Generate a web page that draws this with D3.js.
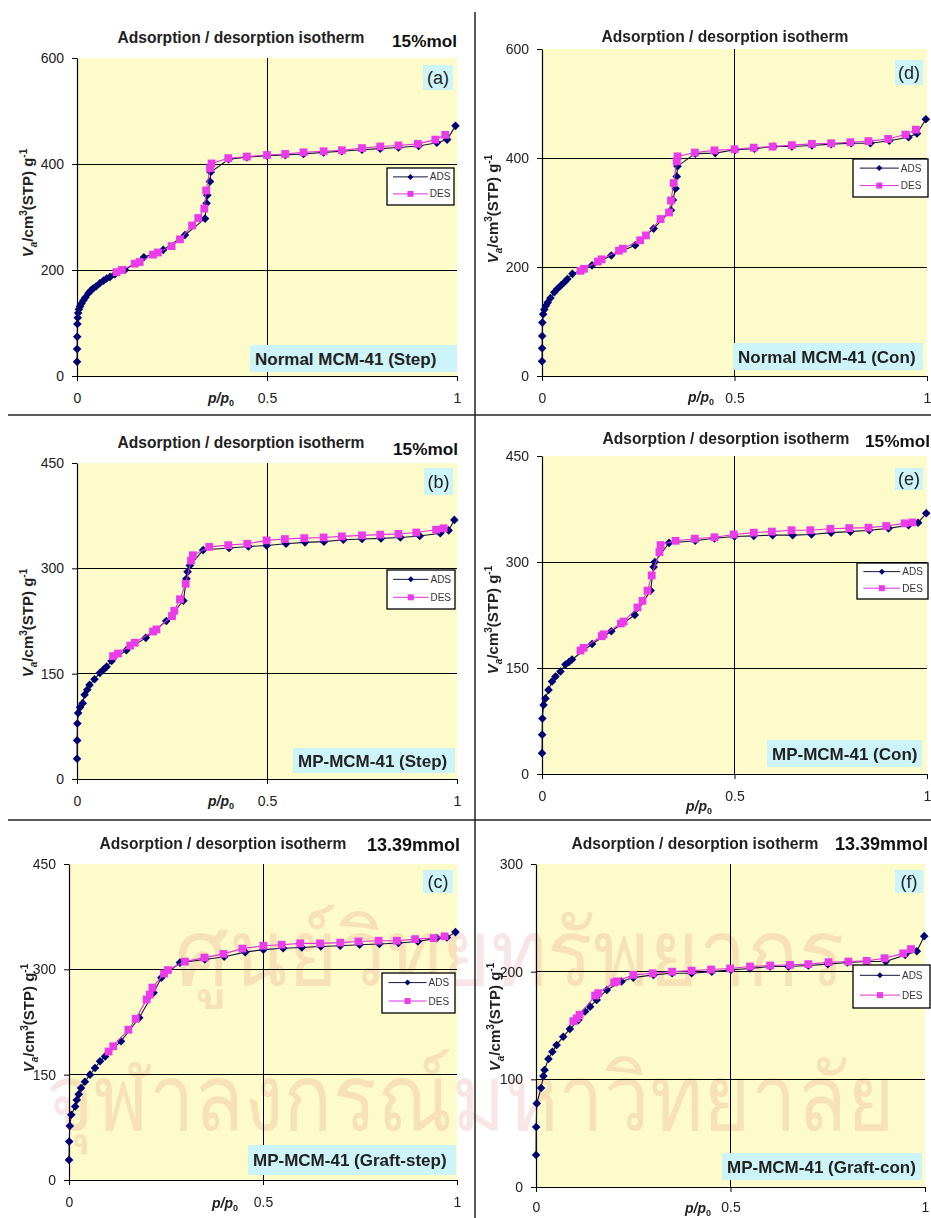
<!DOCTYPE html>
<html>
<head>
<meta charset="utf-8">
<script src="https://cdn.jsdelivr.net/npm/d3@7"></script>
<style>
  html, body { margin: 0; padding: 0; background: #ffffff; }
  svg { display: block; }
</style>
</head>
<body>
<svg id="fig" width="931" height="1218"></svg>
<script>
// ---- Isotherm data: [p/p0, V (cm3 STP / g)] ----
const adsA = [[0.0001,27],[0.0003,51],[0.0006,74],[0.001,98],[0.002,110],[0.003,119],[0.005,126],[0.008,131],[0.012,137],[0.017,143],[0.022,148],[0.03,156],[0.036,161],[0.043,165.5],[0.05,169],[0.06,175],[0.07,180],[0.078,184],[0.087,187],[0.1,192],[0.126,200],[0.176,224],[0.227,238],[0.284,266],[0.337,297],[0.341,326],[0.343,341],[0.35,367],[0.352,385],[0.399,409],[0.447,413],[0.5,415.5],[0.548,417],[0.596,419],[0.649,422],[0.697,424],[0.75,427],[0.798,429],[0.846,431],[0.899,434],[0.947,440],[0.974,446],[0.996,472]];
const desA = [[0.104,196],[0.118,200],[0.152,212],[0.165,215],[0.2,229],[0.213,233],[0.249,245],[0.271,258],[0.303,284],[0.319,298],[0.335,316],[0.34,350],[0.35,392],[0.354,401],[0.398,411],[0.447,414],[0.5,417],[0.548,419],[0.596,422],[0.649,424],[0.697,426],[0.75,430],[0.798,433],[0.846,435],[0.897,438],[0.943,446],[0.969,455]];

const adsB = [[0.0001,28.8],[0.0004,55],[0.001,79],[0.003,94],[0.008,102],[0.015,108],[0.02,120],[0.027,127],[0.033,134],[0.046,142],[0.06,151],[0.07,156],[0.078,160],[0.091,168],[0.13,183.5],[0.181,201],[0.235,225],[0.28,254],[0.288,285],[0.291,295],[0.297,304],[0.332,326],[0.4,329],[0.451,331],[0.499,332.6],[0.55,335],[0.6,337],[0.65,338],[0.701,340.7],[0.75,341.7],[0.8,342.6],[0.851,344],[0.902,346],[0.956,350],[0.978,354],[0.993,369]];
const desB = [[0.095,175],[0.108,178.7],[0.14,190],[0.152,194],[0.2,210],[0.209,213],[0.25,232],[0.256,239.5],[0.271,256],[0.286,278],[0.3,311],[0.305,318.6],[0.348,330.6],[0.398,333],[0.448,335],[0.499,339.8],[0.547,341.7],[0.598,343],[0.649,344],[0.697,345.5],[0.75,347],[0.798,348],[0.846,349],[0.893,351],[0.945,355],[0.965,357]];

const adsC = [[0.0001,28.6],[0.0005,54.8],[0.002,77],[0.006,93],[0.016,104.7],[0.02,114],[0.025,122],[0.031,131],[0.041,140],[0.054,150],[0.067,159.5],[0.08,169],[0.093,176],[0.134,197.6],[0.181,231],[0.218,266.7],[0.238,288],[0.286,309.6],[0.35,314],[0.4,318],[0.454,324.5],[0.501,328],[0.552,330],[0.6,331],[0.649,332.6],[0.699,333.6],[0.749,335],[0.8,336],[0.849,337.4],[0.899,339.7],[0.948,344.5],[0.974,345.5],[0.996,353]];
const desC = [[0.102,183],[0.114,190.5],[0.153,214],[0.172,229.5],[0.2,257],[0.208,264],[0.215,274],[0.245,294],[0.255,299],[0.299,311],[0.349,316.7],[0.398,322],[0.447,329.5],[0.501,333.6],[0.548,335],[0.596,337],[0.647,337],[0.699,338],[0.746,339.7],[0.798,340.7],[0.845,340.7],[0.892,343],[0.94,344.5],[0.968,347]];

const adsD = [[0.0001,27],[0.0003,51],[0.0006,73.5],[0.001,98],[0.003,113.5],[0.006,122],[0.01,129],[0.015,135],[0.022,143],[0.032,153.6],[0.04,160],[0.049,166],[0.058,172],[0.066,178],[0.079,187.4],[0.13,203],[0.18,221],[0.242,240],[0.29,270.5],[0.335,304],[0.34,323],[0.347,344],[0.35,366],[0.352,385],[0.398,408],[0.45,409],[0.502,415],[0.552,417],[0.602,421],[0.649,421],[0.701,423],[0.751,425.5],[0.803,427],[0.853,427],[0.902,431.6],[0.952,438],[0.974,445],[0.997,471]];
const desD = [[0.1,193],[0.109,196.7],[0.145,210],[0.155,214],[0.2,230],[0.21,233.6],[0.255,249],[0.27,258],[0.308,288],[0.33,300],[0.335,322],[0.342,354],[0.35,394],[0.352,403],[0.397,410],[0.448,414],[0.5,416],[0.55,419],[0.599,421],[0.649,423.6],[0.701,426],[0.751,427],[0.801,429],[0.848,431],[0.899,435],[0.944,443],[0.971,452]];

const adsE = [[0.0001,29.5],[0.0004,55.7],[0.001,78.6],[0.004,97.6],[0.009,107],[0.017,119],[0.026,131],[0.035,138],[0.048,145],[0.061,155],[0.07,158.5],[0.078,162],[0.13,184],[0.18,202],[0.241,225],[0.282,259.5],[0.29,293],[0.293,300],[0.33,327],[0.398,330],[0.448,333.5],[0.5,336],[0.55,337],[0.599,338],[0.651,338],[0.7,339],[0.751,341.5],[0.801,343],[0.85,345],[0.9,347.6],[0.952,352],[0.977,355.6],[0.998,369]];
const desE = [[0.1,174.7],[0.108,178.6],[0.155,195],[0.16,197.6],[0.205,213],[0.212,215.7],[0.248,235.7],[0.261,245],[0.274,259.5],[0.285,281],[0.305,314],[0.308,324],[0.347,330],[0.397,333],[0.448,335],[0.498,339],[0.55,341.5],[0.597,343],[0.648,345],[0.697,345],[0.749,347],[0.798,348],[0.848,348.6],[0.894,351],[0.942,354.7],[0.962,356]];

const adsF = [[0.0001,29.7],[0.0005,55.7],[0.002,77.5],[0.013,92],[0.019,103],[0.022,108.7],[0.032,119],[0.042,125.6],[0.053,131.8],[0.07,139.6],[0.087,146.7],[0.109,155],[0.126,163],[0.139,167.5],[0.156,173.7],[0.182,183],[0.22,190.8],[0.25,194.5],[0.302,197],[0.35,198.5],[0.4,198.5],[0.452,200],[0.501,201.7],[0.55,203],[0.602,204.8],[0.649,204.8],[0.7,205.7],[0.75,207],[0.801,208.5],[0.85,209.4],[0.899,209.4],[0.949,215.6],[0.979,219],[0.998,233]];
const desF = [[0.096,154],[0.105,156.7],[0.112,160],[0.152,177.8],[0.16,180],[0.201,190],[0.208,191],[0.25,197],[0.3,198.5],[0.35,200],[0.4,201],[0.45,202],[0.499,203],[0.55,204.8],[0.602,205.7],[0.653,206.3],[0.7,207],[0.752,208.8],[0.803,209.4],[0.85,210],[0.896,212.5],[0.944,217],[0.964,221]];

// ---- Labels and axes ----
const seriesNames = ["ADS", "DES"];
const xTickValues = [0, 0.5, 1];
const xTickLabels = ["0", "0.5", "1"];
const yTicksA = [0, 200, 400, 600];
const yTicksB = [0, 150, 300, 450];
const yTicksC = [0, 150, 300, 450];
const yTicksD = [0, 200, 400, 600];
const yTicksE = [0, 150, 300, 450];
const yTicksF = [0, 100, 200, 300];
const panelTags = ["(a)", "(b)", "(c)", "(d)", "(e)", "(f)"];
const sampleNames = ["Normal MCM-41 (Step)", "MP-MCM-41 (Step)", "MP-MCM-41 (Graft-step)",
                     "Normal MCM-41 (Con)", "MP-MCM-41 (Con)", "MP-MCM-41 (Graft-con)"];
const loadings = ["15%mol", "15%mol", "13.39mmol", "", "15%mol", "13.39mmol"];
const chartTitle = "Adsorption / desorption isotherm";
const watermarkLines = ["ศูนย์วิทยทรัพยากร", "จุฬาลงกรณ์มหาวิทยาลัย"];

// ---- Layout of the six panels ----
const layout = [
  {L:77,  R:457, T:58,  B:376,  tx:241, ty:43,  nr:457, ny:47,   lg:[387,168,67,37], tg:[423,65,30,25],  nm:[250,345,207,27],  yl:[28,203],   pl:[221,403]},
  {L:77,  R:457, T:463, B:779,  tx:241, ty:448, nr:458, ny:455,  lg:[387,570,68,39], tg:[424,468,29,27], nm:[293,748,162,25],  yl:[28,623],   pl:[221,806]},
  {L:69,  R:457, T:864, B:1180, tx:223, ty:849, nr:460, ny:851,  lg:[382,973,73,40], tg:[423,870,30,23], nm:[248,1145,208,30], yl:[29,1018],  pl:[225,1208]},
  {L:542, R:927, T:49,  B:376,  tx:725, ty:42,  nr:930, ny:46,   lg:[853,159,75,38], tg:[895,60,28,25],  nm:[733,343,190,27],  yl:[493,209],  pl:[701,402]},
  {L:542, R:927, T:456, B:774,  tx:726, ty:444, nr:930, ny:447,  lg:[857,563,71,36], tg:[895,468,28,22], nm:[767,740,155,27],  yl:[493,620],  pl:[699,811]},
  {L:536, R:925, T:864, B:1187, tx:695, ty:849, nr:928, ny:850,  lg:[853,965,77,43], tg:[895,870,28,23], nm:[722,1153,200,27], yl:[495,1017], pl:[698,1213]}
];
const adsSets = [adsA, adsB, adsC, adsD, adsE, adsF];
const desSets = [desA, desB, desC, desD, desE, desF];
const yTickSets = [yTicksA, yTicksB, yTicksC, yTicksD, yTicksE, yTicksF];

const FONT = "'Liberation Sans', Arial, Helvetica, sans-serif";
const PLOT_BG = "#fdfbc9";
const LABEL_BG = "#cdf4f8";
const ADS_FILL = "#000072";
const ADS_LINE = "#14143c";
const DES_FILL = "#ea3cea";
const DES_LINE = "#e02ee0";

const svg = d3.select("#fig").style("font-family", FONT);
const bgLayer = svg.append("g");
const wmLayer = svg.append("g");
const fgLayer = svg.append("g");

const diamond = r => `M0,${-r}L${r},0L0,${r}L${-r},0Z`;
const square = s => `M${-s/2},${-s/2}h${s}v${s}h${-s}Z`;

layout.forEach((c, i) => {
  const yTicks = yTickSets[i];
  const yMax = yTicks[yTicks.length - 1];
  const x = d3.scaleLinear().domain([0, 1]).range([c.L, c.R]);
  const y = d3.scaleLinear().domain([0, yMax]).range([c.B, c.T]);

  // plot area
  bgLayer.append("rect")
    .attr("x", c.L).attr("y", c.T).attr("width", c.R - c.L).attr("height", c.B - c.T)
    .attr("fill", PLOT_BG);

  const g = fgLayer.append("g");

  // grid lines
  g.selectAll(".hgrid").data(yTicks.filter(v => v > 0 && v < yMax)).enter()
    .append("line")
    .attr("x1", c.L).attr("x2", c.R)
    .attr("y1", d => y(d)).attr("y2", d => y(d))
    .attr("stroke", "#000").attr("stroke-width", 1).attr("shape-rendering", "crispEdges");
  g.selectAll(".vgrid").data(xTickValues.filter(v => v > 0 && v < 1)).enter()
    .append("line")
    .attr("y1", c.T).attr("y2", c.B)
    .attr("x1", d => x(d)).attr("x2", d => x(d))
    .attr("stroke", "#000").attr("stroke-width", 1).attr("shape-rendering", "crispEdges");

  // axes
  const yAxis = d3.axisLeft(y).tickValues(yTicks).tickSize(5).tickSizeOuter(0).tickPadding(8)
    .tickFormat(d3.format("d"));
  const xAxis = d3.axisBottom(x).tickValues(xTickValues).tickSize(5).tickSizeOuter(0)
    .tickPadding(i === 5 ? 10 : 12)
    .tickFormat((d, k) => xTickLabels[k]);
  const ya = g.append("g").attr("transform", `translate(${c.L},0)`).call(yAxis);
  const xa = g.append("g").attr("transform", `translate(0,${c.B})`).call(xAxis);
  [ya, xa].forEach(a => {
    a.select(".domain").attr("stroke", "#000").attr("stroke-width", 1.2);
    a.selectAll(".tick line").attr("stroke", "#000");
    a.selectAll(".tick text").attr("fill", "#222").style("font-size", "14px").style("font-family", FONT);
  });

  // series
  const line = d3.line().x(d => x(d[0])).y(d => y(d[1]));
  g.append("path").datum(adsSets[i]).attr("d", line)
    .attr("fill", "none").attr("stroke", ADS_LINE).attr("stroke-width", 1.1);
  g.append("g").selectAll("path").data(adsSets[i]).enter().append("path")
    .attr("transform", d => `translate(${x(d[0])},${y(d[1])})`)
    .attr("d", diamond(4.3)).attr("fill", ADS_FILL);
  g.append("path").datum(desSets[i]).attr("d", line)
    .attr("fill", "none").attr("stroke", DES_LINE).attr("stroke-width", 1.1);
  g.append("g").selectAll("path").data(desSets[i]).enter().append("path")
    .attr("transform", d => `translate(${x(d[0])},${y(d[1])})`)
    .attr("d", square(7.8)).attr("fill", DES_FILL);

  // title and loading
  g.append("text").attr("x", c.tx).attr("y", c.ty).attr("text-anchor", "middle")
    .attr("font-weight", "bold").attr("font-size", 15.6).attr("fill", "#222").text(chartTitle);
  if (loadings[i]) {
    g.append("text").attr("x", c.nr).attr("y", c.ny).attr("text-anchor", "end")
      .attr("font-weight", "bold").attr("font-size", loadings[i].length > 7 ? 18 : 17.2)
      .attr("fill", "#111").text(loadings[i]);
  }

  // y axis title
  const yt = g.append("text")
    .attr("transform", `translate(${c.yl[0]},${c.yl[1]}) rotate(-90)`)
    .attr("text-anchor", "middle").attr("font-weight", "bold").attr("font-size", 15).attr("fill", "#222")
    .attr("dy", "0.35em");
  yt.append("tspan").attr("font-style", "italic").text("V");
  yt.append("tspan").attr("font-style", "italic").attr("font-size", 10).attr("dy", 4).text("a");
  yt.append("tspan").attr("dy", -4).text("/cm");
  yt.append("tspan").attr("font-size", 10).attr("dy", -6).text("3");
  yt.append("tspan").attr("dy", 6).text("(STP) g");
  yt.append("tspan").attr("font-size", 10).attr("dy", -6).text("-1");

  // x axis title
  const xt = g.append("text").attr("x", c.pl[0]).attr("y", c.pl[1]).attr("text-anchor", "middle")
    .attr("font-weight", "bold").attr("font-size", 14).attr("fill", "#222");
  xt.append("tspan").attr("font-style", "italic").text("p/p");
  xt.append("tspan").attr("font-size", 9).attr("dy", 3).text("0");

  // legend
  const [lx, ly, lw, lh] = c.lg;
  const lg = g.append("g");
  lg.append("rect").attr("x", lx).attr("y", ly).attr("width", lw).attr("height", lh)
    .attr("fill", "#fff").attr("stroke", "#000").attr("stroke-width", 1.3);
  seriesNames.forEach((s, k) => {
    const cy = ly + lh * (k === 0 ? 0.24 : 0.7);
    const x0 = lx + lw * 0.09, x1 = lx + lw * 0.61;
    lg.append("line").attr("x1", x0).attr("x2", x1).attr("y1", cy).attr("y2", cy)
      .attr("stroke", k === 0 ? ADS_LINE : DES_LINE).attr("stroke-width", 1);
    lg.append("path").attr("transform", `translate(${(x0 + x1) / 2},${cy})`)
      .attr("d", k === 0 ? diamond(3) : square(6)).attr("fill", k === 0 ? ADS_FILL : DES_FILL);
    lg.append("text").attr("x", x1 + 2).attr("y", cy).attr("dy", "0.35em")
      .attr("font-size", 10).attr("fill", "#333").text(s);
  });

  // panel tag
  const [tx0, ty0, tw, th] = c.tg;
  g.append("rect").attr("x", tx0).attr("y", ty0).attr("width", tw).attr("height", th).attr("fill", LABEL_BG);
  g.append("text").attr("x", tx0 + tw / 2).attr("y", ty0 + th / 2).attr("dy", "0.36em")
    .attr("text-anchor", "middle").attr("font-size", 18).attr("fill", "#222").text(panelTags[i]);

  // sample name
  const [nx0, ny0, nw, nh] = c.nm;
  g.append("rect").attr("x", nx0).attr("y", ny0).attr("width", nw).attr("height", nh).attr("fill", LABEL_BG);
  g.append("text").attr("x", nx0 + 5).attr("y", ny0 + nh / 2).attr("dy", "0.36em")
    .attr("font-weight", "bold").attr("font-size", 17).attr("fill", "#222").text(sampleNames[i]);
});

// faint library watermark across the lower part of the page:
// each line is sized to its target width, then stretched vertically to the glyph height
wmLayer.attr("opacity", 0.12).attr("fill", "#c0302c")
  .style("font-family", "'Noto Sans', 'DejaVu Sans', sans-serif");
[[watermarkLines[0], 510, 985, 670], [watermarkLines[1], 470, 1130, 850]].forEach(([txt, cx, by, w]) => {
  const base = 92;
  const t = wmLayer.append("text").attr("text-anchor", "middle").attr("font-size", base).text(txt);
  const natural = t.node().getComputedTextLength();
  const fs = base * w / natural;
  t.attr("font-size", fs)
   .attr("transform", `translate(${cx},${by}) scale(1,${base / fs})`);
});

// panel dividers
const div = svg.append("g").attr("stroke", "#222").attr("stroke-width", 1.5);
div.append("line").attr("x1", 475).attr("x2", 475).attr("y1", 12).attr("y2", 1218);
div.append("line").attr("x1", 8).attr("x2", 931).attr("y1", 415).attr("y2", 415);
div.append("line").attr("x1", 8).attr("x2", 931).attr("y1", 820).attr("y2", 820);
</script>
</body>
</html>
